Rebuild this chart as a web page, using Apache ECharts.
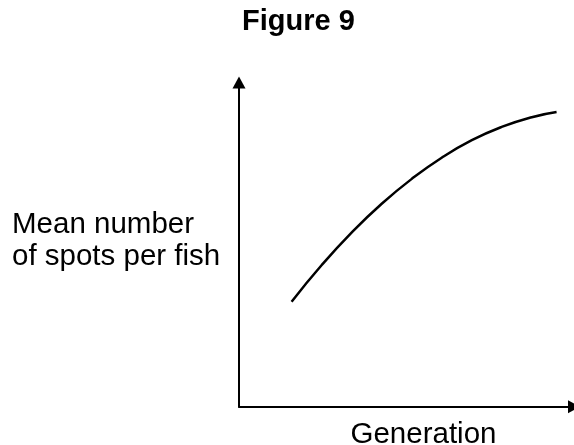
<!DOCTYPE html>
<html>
<head>
<meta charset="utf-8">
<script src="https://cdn.jsdelivr.net/npm/echarts@6/dist/echarts.min.js"></script>
<style>
html,body{margin:0;padding:0;background:#fff;}
#chart{width:574px;height:445px;}
</style>
</head>
<body>
<div id="chart"></div>
<script>
// Data (axes carry no numeric ticks)
const titleText = 'Figure 9';
const xAxisLabel = 'Generation';
const yAxisLabel = 'Mean number\nof spots per fish';
const generation = [1.57, 2.47, 3.36, 4.26, 5.16, 6.05, 6.95, 7.84, 8.74, 9.48];
const meanSpots  = [3.24, 4.37, 5.37, 6.26, 7.03, 7.68, 8.22, 8.63, 8.93, 9.09];

const seriesData = generation.map((g, i) => [g, meanSpots[i]]);
const FONT = '"Liberation Sans", Arial, sans-serif';

const chart = echarts.init(document.getElementById('chart'), null, {renderer: 'canvas'});
chart.setOption({
  animation: false,
  backgroundColor: '#ffffff',
  grid: {left: 239, right: 0, top: 82.5, bottom: 38.3, containLabel: false},
  xAxis: {
    type: 'value', min: 0, max: 10,
    axisLine: {show: true, lineStyle: {color: '#000', width: 2}, symbol: ['none', 'triangle'], symbolSize: [13, 12]},
    axisTick: {show: false}, axisLabel: {show: false}, splitLine: {show: false}
  },
  yAxis: {
    type: 'value', min: 0, max: 10,
    axisLine: {show: true, lineStyle: {color: '#000', width: 2}, symbol: ['none', 'triangle'], symbolSize: [13, 12]},
    axisTick: {show: false}, axisLabel: {show: false}, splitLine: {show: false}
  },
  series: [{
    type: 'line',
    data: seriesData,
    smooth: true,
    showSymbol: false,
    lineStyle: {color: '#000', width: 2.5}
  }],
  graphic: [
    {type: 'text', x: 298.5, y: 7.5, style: {text: titleText, fill: '#000', font: 'bold 29px ' + FONT, align: 'center', verticalAlign: 'top'}},
    {type: 'text', x: 12, y: 209.5, style: {text: yAxisLabel, fill: '#000', font: '29.5px ' + FONT, align: 'left', verticalAlign: 'top', lineHeight: 31.5}},
    {type: 'text', x: 423.5, y: 419.5, style: {text: xAxisLabel, fill: '#000', font: '29.5px ' + FONT, align: 'center', verticalAlign: 'top'}}
  ]
});
</script>
</body>
</html>
